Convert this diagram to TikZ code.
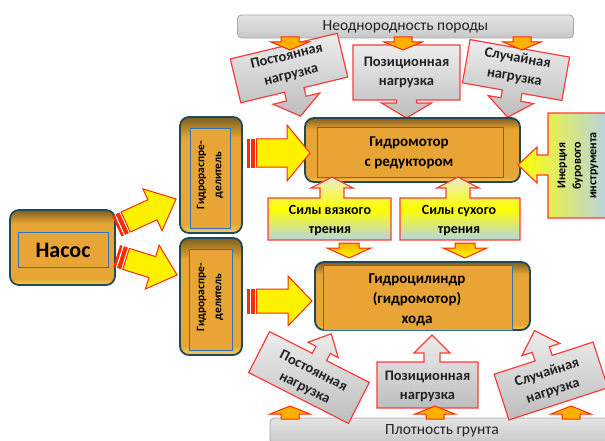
\documentclass[tikz,border=0pt]{standalone}
\usepackage{fontspec}
\setmainfont{Carlito}
\definecolor{boxedge}{HTML}{1F4B57}
\definecolor{gold}{HTML}{E8A536}
\definecolor{goldtop}{HTML}{7D5F20}
\definecolor{goldbot}{HTML}{F7CD5A}
\definecolor{innerblue}{HTML}{2E75B6}
\definecolor{callred}{HTML}{FF3B3B}
\definecolor{grayA}{HTML}{EDEDED}
\definecolor{grayB}{HTML}{BDBDBD}
\definecolor{barA}{HTML}{E4E4E4}
\definecolor{barB}{HTML}{C8C8C8}
\definecolor{baredge}{HTML}{A6A6A6}
\definecolor{txtgray}{HTML}{222222}
\definecolor{arrred}{HTML}{FF2A00}
\definecolor{orangeA}{HTML}{FFB000}
\definecolor{lblue}{HTML}{B8D3E2}
\definecolor{paleyel}{HTML}{E9EBCF}
\pgfdeclareverticalshading{boxshade}{100bp}{color(0bp)=(goldbot); color(25bp)=(goldbot); color(29bp)=(gold); color(66bp)=(gold); color(75bp)=(goldtop); color(100bp)=(goldtop)}
\newcommand\cox{0}\newcommand\csw{10}\newcommand\chw{24}\newcommand\csl{8}\newcommand\chl{18}
\newcommand\mycallout[7]{%
\begin{scope}[shift={(#2,#3)},rotate=#4]
\draw[#1] ({-(#5)/2},{-(#7)*(#6)/2}) -- ({(#5)/2},{-(#7)*(#6)/2}) -- ({(#5)/2},{(#7)*(#6)/2})
 -- ({\cox+\csw},{(#7)*(#6)/2}) -- ({\cox+\csw},{(#7)*((#6)/2+\csl)}) -- ({\cox+\chw},{(#7)*((#6)/2+\csl)})
 -- ({\cox},{(#7)*((#6)/2+\csl+\chl)}) -- ({\cox-\chw},{(#7)*((#6)/2+\csl)}) -- ({\cox-\csw},{(#7)*((#6)/2+\csl)})
 -- ({\cox-\csw},{(#7)*(#6)/2}) -- ({-(#5)/2},{(#7)*(#6)/2}) -- cycle;
\end{scope}}
\newcommand\blockarrow[8]{%
\begin{scope}[shift={(#2,#3)},rotate=#4]
\draw[#1] (0,-#6) -- (#5,-#6) -- (#5,-#7) -- ({#5+#8},0) -- (#5,#7) -- (#5,#6) -- (0,#6) -- cycle;
\end{scope}}
\newcommand\stripedarrow[7]{%
\begin{scope}[shift={(#1,#2)},rotate=#3]
\draw[stripebar] (0,-#5) rectangle (2,#5);
\draw[stripebar] (4,-#5) rectangle (7.5,#5);
\draw[yelarrow] (9.5,-#5) -- ({#4-#7},-#5) -- ({#4-#7},-#6) -- (#4,0) -- ({#4-#7},#6) -- ({#4-#7},#5) -- (9.5,#5) -- cycle;
\end{scope}}
\begin{document}
\begin{tikzpicture}[x=1pt,y=-1pt,
 mainbox/.style={draw=boxedge,line width=1.8pt,rounded corners=9pt,shading=boxshade,inner sep=0pt},
 innerbox/.style={draw=innerblue,line width=0.9pt,fill=gold,inner sep=0pt},
 boxtext/.style={font=\bfseries\fontsize{15}{20}\selectfont,align=center,text=black},
 graycall/.style={draw=callred,line width=1.2pt,top color=grayA,bottom color=grayB},
 calltext/.style={font=\bfseries\fontsize{14.5}{19}\selectfont,align=center,text=txtgray},
 silacall/.style={draw=callred,line width=1.2pt,top color=paleyel,bottom color=lblue,middle color=yellow},
 silatext/.style={font=\bfseries\fontsize{14}{19}\selectfont,align=center,text=black},
 bartext/.style={font=\fontsize{15.5}{17}\selectfont,text=txtgray},
 graybar/.style={draw=baredge,line width=0.8pt,rounded corners=4pt,top color=barA,bottom color=barB,inner sep=0pt},
 stripebar/.style={draw=arrred,line width=0.6pt,fill=arrred},
 yelarrow/.style={draw=arrred,line width=1pt,fill=yellow,line join=miter},
 orarrow/.style={draw=arrred,line width=1pt,fill=orangeA,line join=miter},
 downarrow/.style={draw=arrred,line width=1pt,top color=orangeA,bottom color=yellow,line join=miter}
]
\useasboundingbox (0,0) rectangle (605,441);
% top bar
\node[graybar,minimum width=336pt,minimum height=23pt] (topbar) at (405.5,26.5) {};
\node[bartext] (topbart) at (405.5,26.5) {Неоднородность породы};
% bottom bar
\node[graybar,minimum width=340pt,minimum height=26pt] (botbar) at (440,431) {};
\node[bartext] (botbart) at (442,431) {Плотность грунта};
% top callouts
\renewcommand\cox{0}\renewcommand\csw{10}\renewcommand\chw{24}\renewcommand\csl{9}\renewcommand\chl{18}
\mycallout{graycall}{289}{68}{13.5}{110}{45}{1}
\node[calltext,rotate=13.5] (c1t) at (289,66) {Постоянная\\нагрузка};
\renewcommand\csl{3}\renewcommand\chl{15}\renewcommand\chw{25}
\mycallout{graycall}{406.5}{72.5}{0}{107}{55}{1}
\node[calltext] (c2t) at (406.5,72) {Позиционная\\нагрузка};
\renewcommand\csl{8}\renewcommand\chl{18}\renewcommand\chw{23}
\mycallout{graycall}{516}{70}{-10}{101}{44}{1}
\node[calltext,rotate=-10] (c3t) at (516,68) {Случайная\\нагрузка};
% bottom callouts
\renewcommand\cox{0}\renewcommand\csw{8}\renewcommand\chw{17}\renewcommand\csl{8}\renewcommand\chl{18}
\mycallout{graycall}{309}{377.5}{-27}{112}{46}{-1}
\node[calltext,rotate=-27] (c4t) at (309,380) {Постоянная\\нагрузка};
\renewcommand\cox{4.5}\renewcommand\csl{9}\renewcommand\chw{18}
\mycallout{graycall}{427.5}{385}{0}{101}{46}{-1}
\node[calltext] (c5t) at (427.5,386) {Позиционная\\нагрузка};
\renewcommand\cox{0}\renewcommand\csw{9}\renewcommand\chw{20}\renewcommand\csl{9}\renewcommand\chl{20}
\mycallout{graycall}{551}{381}{18}{104}{48}{-1}
\node[calltext,rotate=18] (c6t) at (550,382) {Случайная\\нагрузка};
% small orange arrows
\blockarrow{orarrow}{290}{37}{-90}{5}{9}{19}{8}
\blockarrow{orarrow}{403}{37}{-90}{5}{9}{19}{8}
\blockarrow{orarrow}{522}{37}{-90}{5}{9}{19}{8}
\blockarrow{orarrow}{290}{419}{90}{5}{9}{20}{8}
\blockarrow{orarrow}{435}{419}{90}{5}{9}{20}{8}
\blockarrow{orarrow}{571}{419}{90}{5}{9}{20}{8}
% main boxes
\node[mainbox,minimum width=105pt,minimum height=75pt] (nasos) at (62.5,247.5) {};
\node[innerbox,minimum width=90pt,minimum height=35pt] (nasosin) at (63,249.5) {};
\node[font=\bfseries\fontsize{22}{24}\selectfont] (nasost) at (63,250) {Насос};
\node[mainbox,minimum width=62pt,minimum height=116pt] (dist1) at (211,175) {};
\node[innerbox,minimum width=40pt,minimum height=100pt] (dist1in) at (210,178) {};
\node[font=\bfseries\fontsize{11.5}{17}\selectfont,align=center,rotate=90] (dist1t) at (210,175) {Гидрораспре-\\делитель};
\node[mainbox,minimum width=62pt,minimum height=117pt] (dist2) at (211,296.5) {};
\node[innerbox,minimum width=43pt,minimum height=101pt] (dist2in) at (210.5,299.5) {};
\node[font=\bfseries\fontsize{11.5}{17}\selectfont,align=center,rotate=90] (dist2t) at (210,297) {Гидрораспре-\\делитель};
\node[mainbox,minimum width=215pt,minimum height=64pt] (motor) at (412.5,150) {};
\node[innerbox,minimum width=186pt,minimum height=50pt] (motorin) at (410,152) {};
\node[boxtext] (motort) at (409,153) {Гидромотор\\с редуктором};
\node[mainbox,minimum width=215pt,minimum height=68pt] (cyl) at (422.5,296) {};
\node[innerbox,minimum width=189pt,minimum height=65pt] (cylin) at (417.5,297.5) {};
\node[boxtext] (cylt) at (417,300) {Гидроцилиндр\\(гидромотор)\\хода};
% striped arrows
\stripedarrow{117}{226}{24.6}{65}{11}{23}{26}
\stripedarrow{117}{256}{-17.5}{63}{11}{23}{26}
\stripedarrow{247}{153}{0}{63}{14}{28}{23}
\stripedarrow{247}{301}{0}{65}{12}{25}{24}
% friction callouts
\renewcommand\cox{2.5}\renewcommand\csw{12}\renewcommand\chw{21}\renewcommand\csl{10}\renewcommand\chl{11}
\mycallout{silacall}{329.5}{219}{0}{123}{42}{-1}
\node[silatext] (s1t) at (330,221) {Силы вязкого\\трения};
\renewcommand\cox{-2}
\mycallout{silacall}{460}{219}{0}{120}{42}{-1}
\node[silatext] (s2t) at (459,221) {Силы сухого\\трения};
\blockarrow{downarrow}{349}{243}{-90}{5}{10}{22}{10}
\blockarrow{downarrow}{465}{243}{-90}{5}{10}{22}{10}
% inertia callout
\shade[left color=yellow,right color=lblue,draw=callred,line width=1.2pt,line join=miter]
 (548,113) -- (607,113) -- (607,218) -- (548,218) -- (548,175) -- (537,175) -- (537,183) -- (518,165)
 -- (537,147) -- (537,155) -- (548,155) -- cycle;
\node[font=\bfseries\fontsize{12}{15.5}\selectfont,align=center,rotate=90] (inert) at (578,165.5) {Инерция\\бурового\\инструмента};
\end{tikzpicture}
\end{document}
